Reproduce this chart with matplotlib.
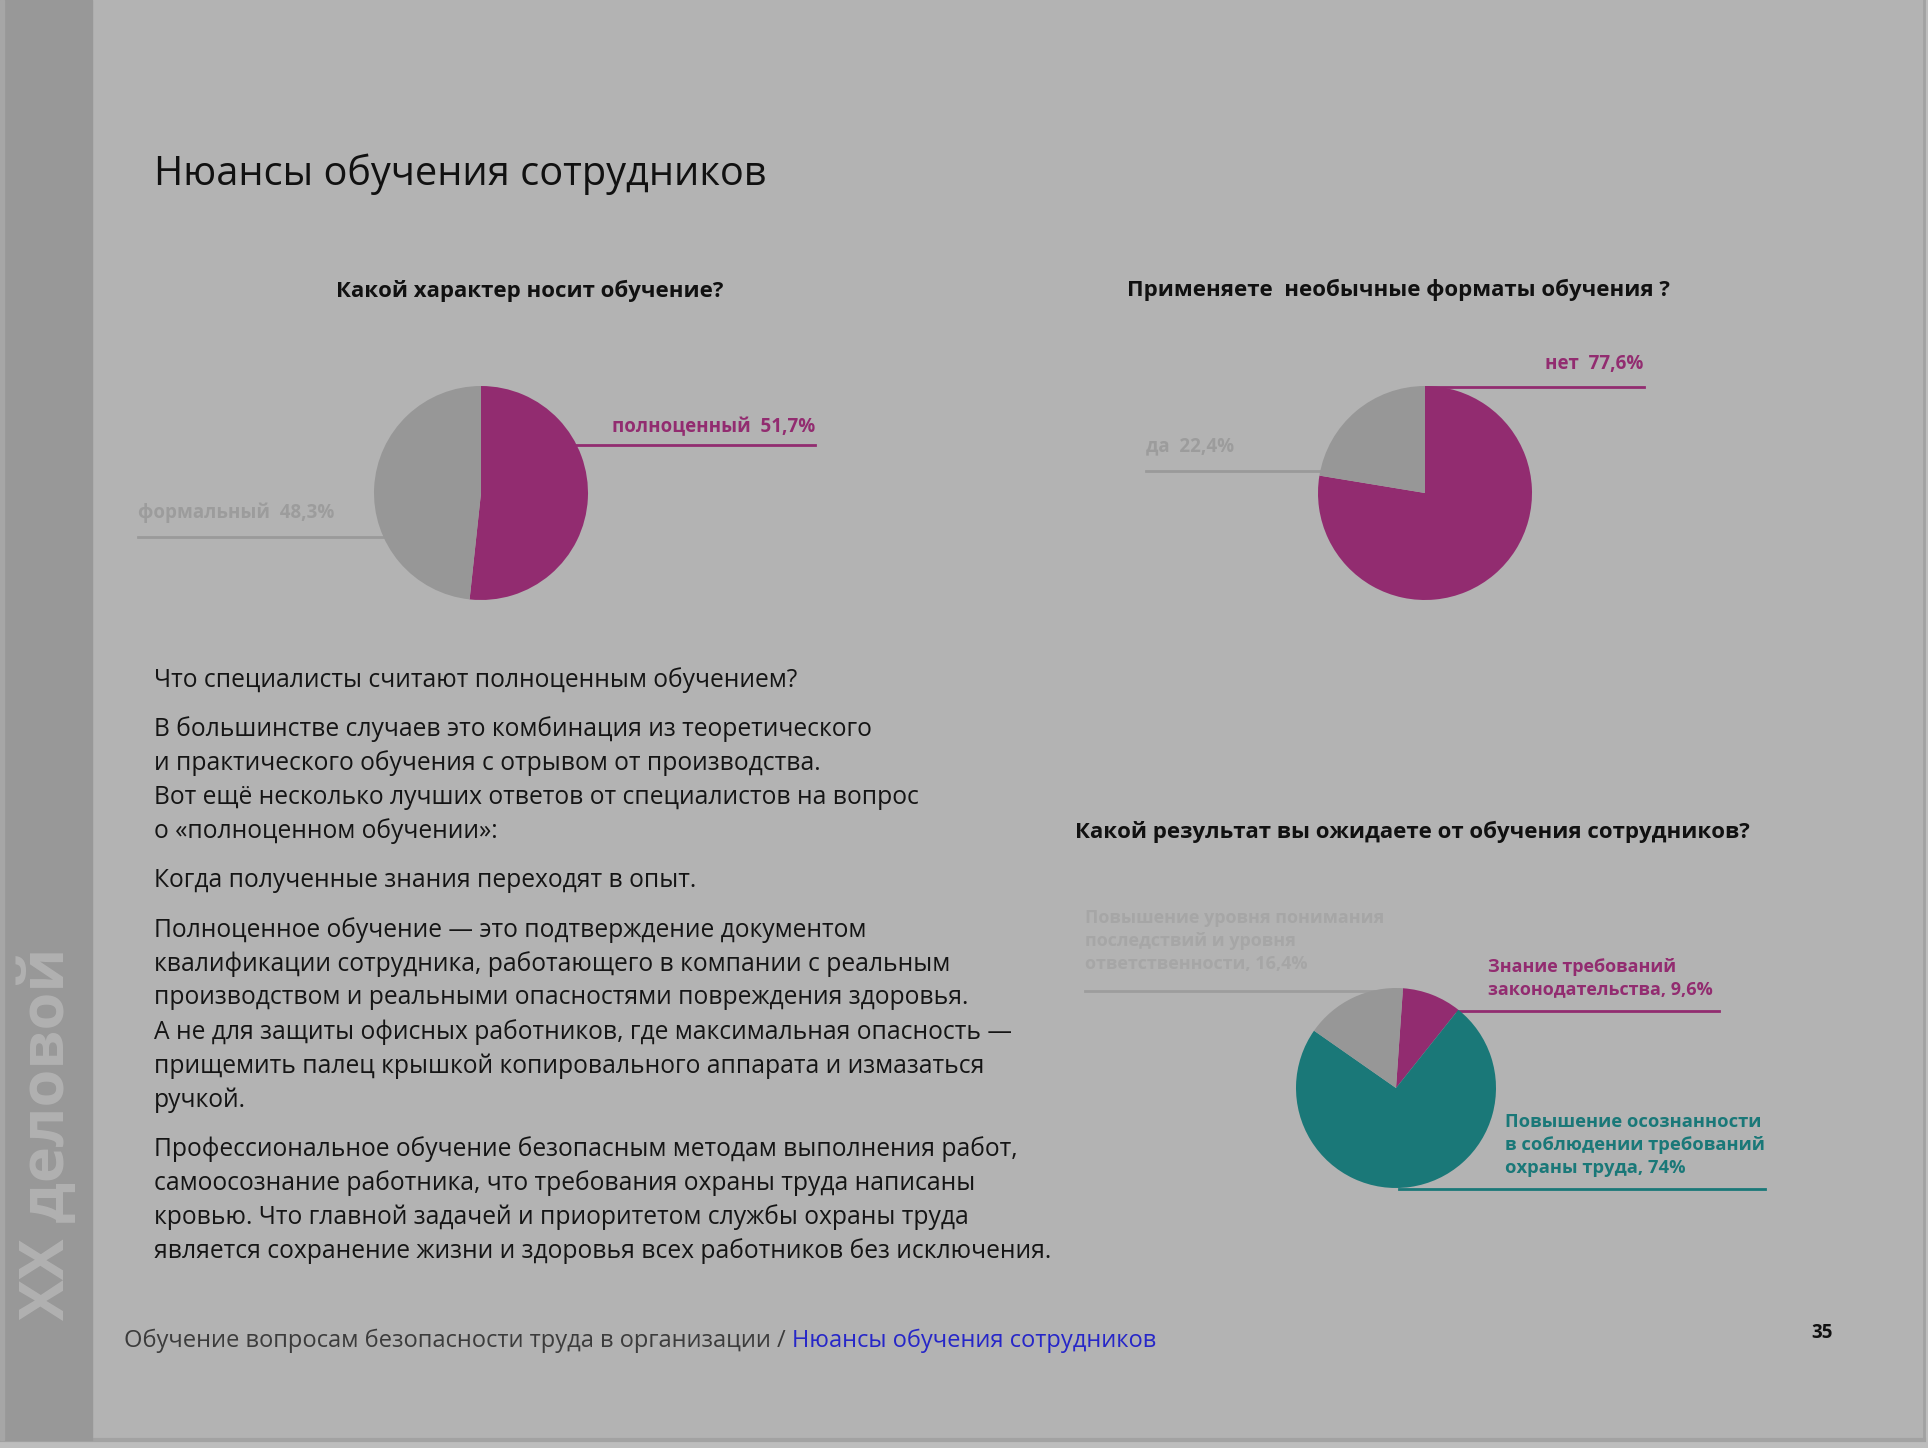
import numpy as np
import matplotlib
matplotlib.use('Agg')
import matplotlib.pyplot as plt

plt.rcParams['font.family'] = ['Open Sans', 'DejaVu Sans']

W, H = 1928, 1448

# данные
q1_title = 'Какой характер носит обучение?'
q1_labels = ['полноценный', 'формальный']
q1_values = [51.7, 48.3]

q2_title = 'Применяете  необычные форматы обучения ?'
q2_labels = ['нет', 'да']
q2_values = [77.6, 22.4]

q3_title = 'Какой результат вы ожидаете от обучения сотрудников?'
q3_labels = ['Знание требований\nзаконодательства',
             'Повышение осознанности\nв соблюдении требований\nохраны труда',
             'Повышение уровня понимания\nпоследствий и уровня\nответственности']
q3_values = [9.6, 74, 16.4]

body_lines = [
    ['Что специалисты считают полноценным обучением?'],
    ['В большинстве случаев это комбинация из теоретического',
     'и практического обучения с отрывом от производства.',
     'Вот ещё несколько лучших ответов от специалистов на вопрос',
     'о «полноценном обучении»:'],
    ['Когда полученные знания переходят в опыт.'],
    ['Полноценное обучение — это подтверждение документом',
     'квалификации сотрудника, работающего в компании с реальным',
     'производством и реальными опасностями повреждения здоровья.',
     'А не для защиты офисных работников, где максимальная опасность —',
     'прищемить палец крышкой копировального аппарата и измазаться',
     'ручкой.'],
    ['Профессиональное обучение безопасным методам выполнения работ,',
     'самоосознание работника, что требования охраны труда написаны',
     'кровью. Что главной задачей и приоритетом службы охраны труда',
     'является сохранение жизни и здоровья всех работников без исключения.'],
]

MAGENTA = '#922c70'
TEAL = '#1a7878'
GRAY = '#979797'
BG = '#b3b3b3'


def pct(v):
    return '{:g}%'.format(v).replace('.', ',')


fig = plt.figure(figsize=(W / 100, H / 100), dpi=100)
fig.patch.set_facecolor('#bdbdbd')

bg = fig.add_axes([0, 0, 1, 1])
bg.set_xlim(0, W)
bg.set_ylim(H, 0)
bg.axis('off')

# фон страницы и боковая полоса
bg.add_patch(plt.Rectangle((0, 0), 1924, 1440, color=BG, zorder=0))
bg.plot([1924, 1924], [0, 1440], color='#a2a2a2', lw=2, zorder=1)
bg.plot([0, 1924], [1440, 1440], color='#a2a2a2', lw=3, zorder=1)
bg.add_patch(plt.Rectangle((0, 0), 92, 1440, color='#989898', zorder=1))
bg.add_patch(plt.Rectangle((0, 0), 4, 1440, color='#a6a6a6', zorder=1))
bg.text(49, 1134, 'ХХ деловой', rotation=90, ha='center', va='center',
        fontsize=44, fontweight='bold', color='#b1b1b1', zorder=2)

# заголовок
bg.text(154, 174, 'Нюансы обучения сотрудников', fontsize=28.6, va='center',
        color='#111111')

# заголовки диаграмм
bg.text(530, 291, q1_title, fontsize=16, fontweight='bold', ha='center',
        va='center', color='#111111')
bg.text(1398, 290, q2_title, fontsize=16, fontweight='bold', ha='center',
        va='center', color='#111111')
bg.text(1412, 832, q3_title, fontsize=16, fontweight='bold', ha='center',
        va='center', color='#111111')


def pie_axes(cx, cy, r):
    return fig.add_axes([(cx - r) / W, 1 - (cy + r) / H, 2 * r / W, 2 * r / H])


def edge_x(cx, cy, r, y, side):
    return cx + side * np.sqrt(max(r * r - (y - cy) ** 2, 0))


# диаграмма 1
cx, cy, r = 481, 493, 107
ax1 = pie_axes(cx, cy, r)
ax1.pie(q1_values, colors=[MAGENTA, GRAY], startangle=90, counterclock=False,
        wedgeprops=dict(linewidth=0))
ax1.set_xlim(-1, 1)
ax1.set_ylim(-1, 1)
bg.plot([edge_x(cx, cy, r, 445, 1) - 3, 815], [445, 445], color=MAGENTA, lw=2)
bg.text(612, 427, q1_labels[0] + '  ' + pct(q1_values[0]), fontsize=13.5,
        fontweight='bold', color=MAGENTA, va='center')
bg.plot([138, edge_x(cx, cy, r, 537, -1) + 3], [537, 537], color='#9a9a9a', lw=2)
bg.text(138, 513, q1_labels[1] + '  ' + pct(q1_values[1]), fontsize=13.5,
        fontweight='bold', color='#9c9c9c', va='center')

# диаграмма 2
cx, cy, r = 1425, 493, 107
ax2 = pie_axes(cx, cy, r)
ax2.pie(q2_values, colors=[MAGENTA, GRAY], startangle=90, counterclock=False,
        wedgeprops=dict(linewidth=0))
ax2.set_xlim(-1, 1)
ax2.set_ylim(-1, 1)
bg.plot([cx, 1644], [387, 387], color=MAGENTA, lw=2)
bg.text(1643, 364, q2_labels[0] + '  ' + pct(q2_values[0]), fontsize=13.5,
        fontweight='bold', color=MAGENTA, va='center', ha='right')
bg.plot([1146, edge_x(cx, cy, r, 471, -1) + 3], [471, 471], color='#9a9a9a', lw=2)
bg.text(1146, 446, q2_labels[1] + '  ' + pct(q2_values[1]), fontsize=13.5,
        fontweight='bold', color='#9c9c9c', va='center')

# диаграмма 3
cx, cy, r = 1396, 1088, 100
ax3 = pie_axes(cx, cy, r)
ax3.pie(q3_values, colors=[MAGENTA, TEAL, GRAY], startangle=86,
        counterclock=False, wedgeprops=dict(linewidth=0))
ax3.set_xlim(-1, 1)
ax3.set_ylim(-1, 1)
bg.plot([edge_x(cx, cy, r, 1011, 1) - 3, 1719], [1011, 1011], color=MAGENTA, lw=2)
bg.text(1488, 978, q3_labels[0] + ', ' + pct(q3_values[0]), fontsize=13,
        fontweight='bold', color=MAGENTA, va='center', linespacing=1.35)
bg.plot([1399, 1765], [1189, 1189], color=TEAL, lw=2)
bg.text(1505, 1145, q3_labels[1] + ', ' + pct(q3_values[1]), fontsize=13.2,
        fontweight='bold', color=TEAL, va='center', linespacing=1.35)
bg.plot([1085, 1406], [991, 991], color='#9d9d9d', lw=2)
bg.text(1085, 941, q3_labels[2] + ', ' + pct(q3_values[2]), fontsize=13,
        fontweight='bold', color='#a6a6a6', va='center', linespacing=1.35)

# основной текст
y = 680
for para in body_lines:
    for line in para:
        bg.text(154, y, line, fontsize=17.75, va='center', color='#151515')
        y += 34.1
    y += 15

# подвал
foot = bg.text(124, 1341, 'Обучение вопросам безопасности труда в организации / ',
               fontsize=17, va='center', color='#3c3c3c')
fig.canvas.draw()
bb = foot.get_window_extent()
bg.text(bb.x1, 1341, 'Нюансы обучения сотрудников', fontsize=17, va='center',
        color='#2626c8')
bg.text(1822, 1333, '35', fontsize=13.5, fontweight='bold', ha='center',
        va='center', color='#111111')

fig.savefig('out.png', dpi=100, facecolor=fig.get_facecolor())
